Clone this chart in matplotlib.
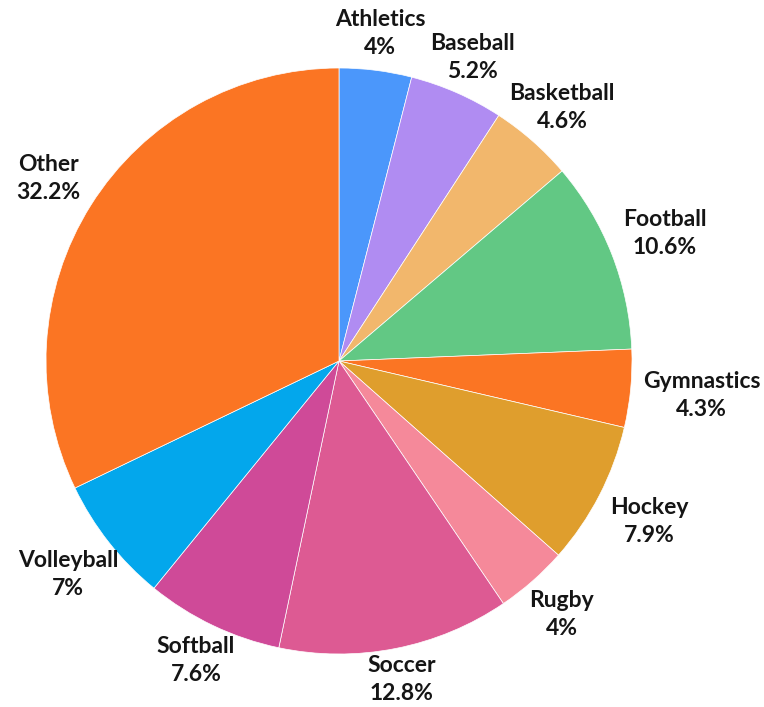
import numpy as np
import matplotlib
matplotlib.use("Agg")
import matplotlib.pyplot as plt

# sport share data
sports = ["Athletics", "Baseball", "Basketball", "Football", "Gymnastics", "Hockey",
          "Rugby", "Soccer", "Softball", "Volleyball", "Other"]
shares = [4, 5.2, 4.6, 10.6, 4.3, 7.9, 4, 12.8, 7.6, 7, 32.2]
colors = ["#4b97fb", "#b08cf2", "#f2b76c", "#62c884", "#fb7523", "#df9e2d",
          "#f5899a", "#dd5a93", "#cf4a98", "#03a7ec", "#fb7523"]

W, H = 764, 707
cx, cy, R = 339, 361, 293  # pie centre and radius in pixels

fig = plt.figure(figsize=(W / 100, H / 100), dpi=100)
ax = fig.add_axes([(cx - R) / W, (H - cy - R) / H, 2 * R / W, 2 * R / H])

wedges, _ = ax.pie(shares, colors=colors, startangle=90, counterclock=False, radius=1,
                   wedgeprops=dict(edgecolor="white", linewidth=0.5))
ax.set_xlim(-1, 1)
ax.set_ylim(-1, 1)
ax.axis("off")

fig.canvas.draw()
renderer = fig.canvas.get_renderer()
px = 1 / R  # data units per pixel
gap = 12    # pixels between rim and label box

for w, name, val in zip(wedges, sports, shares):
    theta = np.deg2rad((w.theta1 + w.theta2) / 2)
    c, s = np.cos(theta), np.sin(theta)
    t = ax.text(0, 0, f"{name}\n{val:g}%", ha="center", va="center", fontsize=16.5,
                fontweight="bold", family=["Lato", "DejaVu Sans"], linespacing=1.42,
                color="#151515")
    bb = t.get_window_extent(renderer)
    # push the box out along the ray until its edge clears the rim
    half = min(bb.width / 2 / max(abs(c), 1e-6), bb.height / 2 / max(abs(s), 1e-6))
    d = R + gap + half
    # keep the box inside the figure
    if s < 0:
        d = min(d, (H - cy - 3 - bb.height / 2) / -s)
    t.set_position((d * c * px, d * s * px))

fig.savefig("out.png", dpi=100)
